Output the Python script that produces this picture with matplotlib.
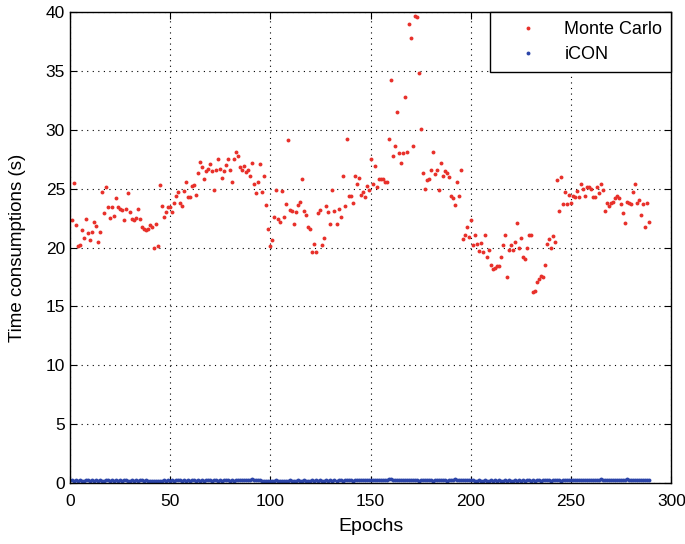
import numpy as np
import matplotlib
matplotlib.use("Agg")
import matplotlib.pyplot as plt

plt.rcParams['font.family'] = ['Liberation Sans', 'DejaVu Sans']

# Monte Carlo time per epoch (s)
monte_carlo = [
    22.3, 25.5, 21.9, 20.1, 20.2, 21.5, 20.8, 22.4, 21.2, 20.6,
    21.3, 22.2, 21.8, 20.5, 21.3, 24.7, 22.9, 25.1, 23.4, 22.5,
    23.4, 22.7, 24.2, 23.4, 23.3, 23.2, 22.3, 23.3, 24.6, 23.0,
    22.4, 22.3, 22.5, 23.3, 22.4, 21.7, 21.6, 21.5, 21.6, 21.9,
    21.7, 20.0, 22.0, 20.1, 25.3, 23.5,
    22.6, 23.0, 23.4, 23.4, 23.0, 23.8, 24.4, 24.7, 23.8, 23.5,
    24.8, 25.6, 24.3, 24.3, 25.2, 25.3, 24.5, 26.3, 27.3, 26.8,
    25.8, 26.5, 26.7, 27.1, 26.5, 24.9, 26.6, 27.5, 26.7, 25.9,
    26.5, 27.0, 27.5, 26.6, 25.6, 27.5, 28.1, 27.8, 26.8, 26.6,
    26.9, 26.4, 26.6, 26.1, 27.2, 25.4, 24.6, 25.6, 27.1, 24.7,
    26.1, 23.6, 21.6, 20.1, 20.6, 22.6, 24.9, 22.4, 22.2, 24.8,
    22.6, 23.7, 29.1, 23.2, 23.1, 22.0, 23.0, 23.6, 23.9, 25.8,
    23.1, 22.8, 21.7, 21.6, 19.6, 20.3, 19.6, 22.9, 23.2, 20.2,
    20.8, 23.5, 23.0, 22.0, 24.9, 23.1, 22.0, 23.3, 22.6, 26.1,
    23.5, 29.2, 24.4, 24.4, 23.8, 26.1, 25.4, 25.9, 24.5, 24.7,
    24.3,
    25.2, 24.9, 27.5, 25.4, 26.9, 25.1, 25.8, 25.8, 25.8, 25.6,
    25.6, 29.2, 34.2, 27.8, 28.6, 31.5, 28.0, 27.2, 28.0, 32.8,
    28.1, 39.0, 37.8, 28.6, 39.7, 39.6, 34.8, 30.1, 26.3, 25.0,
    25.7, 25.8, 26.6, 28.1, 26.2, 26.6, 24.9, 27.2, 26.1, 26.5,
    26.3, 26.0, 24.4, 24.2, 23.6, 25.6, 24.4, 26.6, 20.7, 21.1,
    21.7, 20.9, 22.3, 20.2, 21.1, 20.3, 19.7, 20.4, 19.6, 21.1,
    19.2, 19.8, 18.5, 18.2, 18.3, 18.4, 18.4, 19.2, 20.2, 21.1,
    17.5, 19.8, 20.2, 19.8, 20.5, 22.1, 20.0, 20.8, 19.2, 19.0,
    20.0, 21.1, 21.1, 16.2, 16.3, 17.1, 17.3, 17.6, 17.5, 18.5,
    20.3, 20.7, 20.0, 21.0, 20.5, 25.7, 23.1, 26.0, 23.7, 24.7,
    23.7,
    24.5, 23.8, 24.4, 24.3, 24.8, 24.3, 25.4, 25.0, 24.4, 25.1,
    25.1, 25.0, 24.3, 24.3, 25.1, 24.6, 25.4, 24.9, 23.1, 23.8,
    23.5, 23.8, 23.9, 24.2, 24.4, 24.2, 23.7, 22.9, 22.1, 23.9,
    23.8, 23.7, 24.7, 25.4, 23.8, 24.0, 22.8, 23.7, 21.7, 23.8,
    22.2,
]

# iCON time per epoch (s), a thin band just above zero
icon = [
    0.22, 0.18, 0.25, 0.20, 0.27, 0.21, 0.17, 0.24, 0.22, 0.19,
    0.26, 0.20, 0.23, 0.18, 0.28, 0.21, 0.19, 0.24, 0.22, 0.20,
    0.25, 0.18, 0.23, 0.21, 0.26, 0.19, 0.22, 0.24, 0.18, 0.21,
    0.27, 0.20, 0.23, 0.19, 0.25, 0.22, 0.18, 0.24, 0.21, 0.20,
    0.17, 0.19, 0.16, 0.18, 0.20, 0.17, 0.22, 0.19, 0.24, 0.21,
    0.26, 0.20, 0.23, 0.28, 0.22, 0.19, 0.25, 0.21, 0.24, 0.20,
    0.27, 0.22, 0.18, 0.25, 0.21, 0.23, 0.19, 0.26, 0.22, 0.24,
    0.20, 0.27, 0.23, 0.21, 0.25, 0.19, 0.22, 0.28, 0.24, 0.20,
    0.26, 0.21, 0.23, 0.27, 0.22, 0.25, 0.30, 0.26, 0.29, 0.24,
    0.31, 0.27, 0.25, 0.30, 0.22, 0.20, 0.18, 0.21, 0.19, 0.17,
    0.20, 0.18, 0.22, 0.19, 0.16, 0.21, 0.18, 0.20, 0.17, 0.22,
    0.19, 0.21, 0.18, 0.23, 0.20, 0.17, 0.22, 0.19, 0.21, 0.18,
    0.24, 0.20, 0.22, 0.19, 0.25, 0.21, 0.18, 0.23, 0.20, 0.22,
    0.19, 0.24, 0.21, 0.26, 0.22, 0.20, 0.25, 0.22, 0.27, 0.23,
    0.20, 0.25, 0.28, 0.23, 0.26, 0.30, 0.25, 0.28, 0.24, 0.27,
    0.22, 0.26, 0.24, 0.28, 0.25, 0.23, 0.29, 0.26, 0.31, 0.35,
    0.28, 0.25, 0.30, 0.27, 0.24, 0.29, 0.26, 0.23, 0.28, 0.25,
    0.22, 0.27, 0.24, 0.21, 0.26, 0.23, 0.25, 0.22, 0.27, 0.24,
    0.21, 0.23, 0.26, 0.22, 0.25, 0.28, 0.24, 0.21, 0.26, 0.23,
    0.27, 0.31, 0.26, 0.29, 0.24, 0.22, 0.26, 0.30, 0.25, 0.28,
    0.23, 0.21, 0.19, 0.22, 0.20, 0.18, 0.23, 0.19, 0.21, 0.24,
    0.20, 0.22, 0.18, 0.25, 0.21, 0.19, 0.23, 0.20, 0.22, 0.18,
    0.21, 0.24, 0.20, 0.22, 0.19, 0.23, 0.21, 0.25, 0.22, 0.20,
    0.24, 0.21, 0.26, 0.23, 0.20, 0.25, 0.22, 0.27, 0.24, 0.21,
    0.26, 0.23, 0.28, 0.24, 0.21, 0.26, 0.29, 0.25, 0.22, 0.27,
    0.24, 0.30, 0.26, 0.23, 0.28, 0.25, 0.22, 0.27, 0.24, 0.29,
    0.26, 0.23, 0.28, 0.25, 0.31, 0.27, 0.24, 0.29, 0.26, 0.22,
    0.27, 0.24, 0.30, 0.26, 0.23, 0.28, 0.25, 0.32, 0.27, 0.24,
    0.29, 0.26, 0.22, 0.28, 0.25, 0.30, 0.26, 0.23, 0.28,
]

epochs_mc = np.arange(1, len(monte_carlo) + 1)
epochs_icon = np.arange(1, len(icon) + 1)

fig = plt.figure(figsize=(6.85, 5.44), dpi=100)
ax = fig.add_axes([0.102, 0.112, 0.878, 0.866])

ax.plot(epochs_mc, monte_carlo, linestyle='none', marker='o', markersize=2.8,
        markeredgewidth=0, color='#e8302a', label='Monte Carlo')
ax.plot(epochs_icon, icon, linestyle='none', marker='o', markersize=2.8,
        markeredgewidth=0, color='#2b44a8', label='iCON')

ax.set_xlim(0, 300)
ax.set_ylim(0, 40)
ax.set_xticks(np.arange(0, 301, 50))
ax.set_yticks(np.arange(0, 41, 5))
ax.grid(True, linestyle=(0, (1, 4)), color='black', linewidth=0.8)
ax.tick_params(direction='in', labelsize=12.5, length=5, top=True, right=True)
ax.tick_params(axis='x', pad=8)
for s in ax.spines.values():
    s.set_linewidth(1.0)

ax.set_xlabel('Epochs', fontsize=14, labelpad=6)
ax.set_ylabel('Time consumptions (s)', fontsize=13.5, labelpad=14)

leg = ax.legend(loc='upper right', fontsize=13, fancybox=False, framealpha=1,
                edgecolor='black', borderaxespad=0, handlelength=3.2,
                handletextpad=0.4, borderpad=0.5, labelspacing=0.45)
leg.get_frame().set_linewidth(1.0)

fig.savefig('out.png', dpi=100)
